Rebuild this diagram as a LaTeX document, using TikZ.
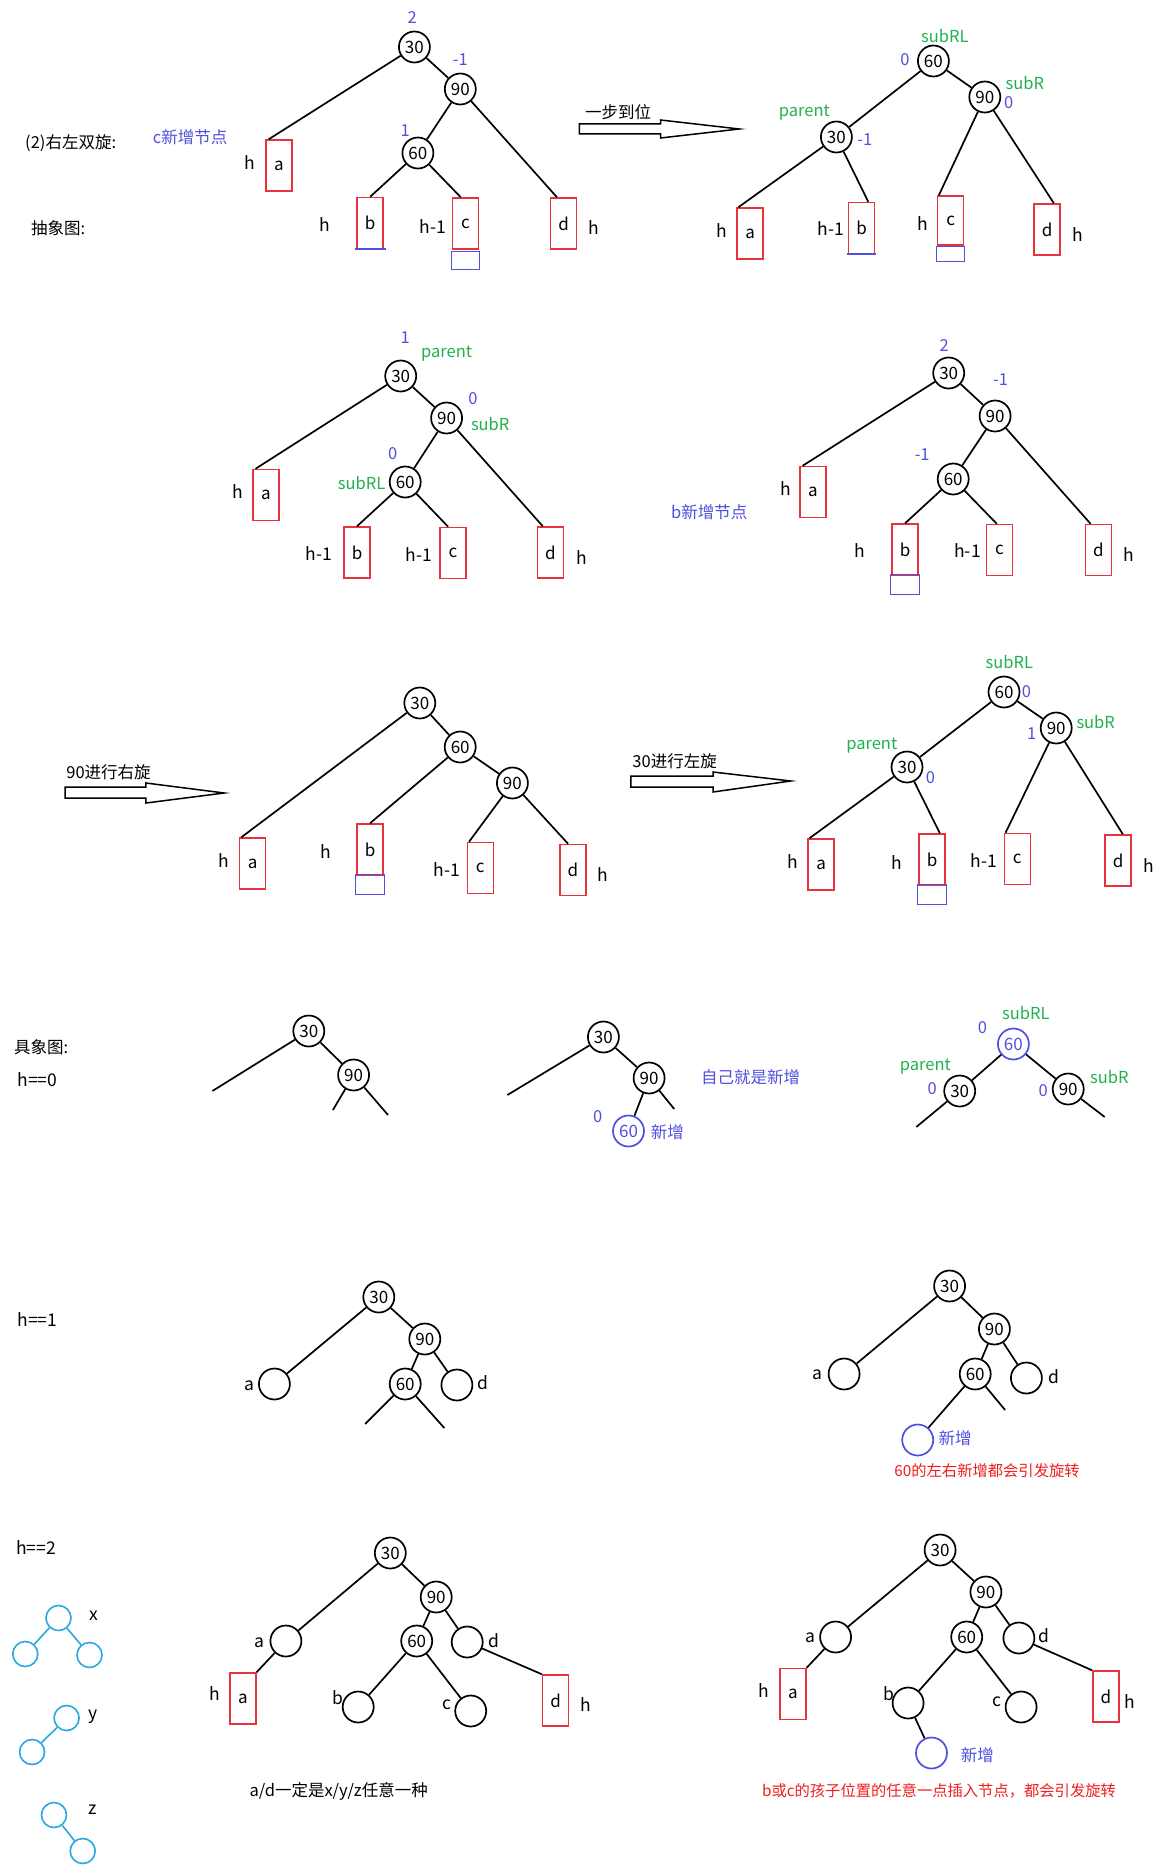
\documentclass[tikz,border=0pt]{standalone}
\usepackage{fontspec}
\setmainfont{Noto Sans CJK SC}
\definecolor{bred}{RGB}{232,50,62}
\definecolor{nblue}{RGB}{80,80,224}
\definecolor{sgreen}{RGB}{34,177,76}
\definecolor{lblue}{RGB}{41,168,224}
\definecolor{tred}{RGB}{240,30,30}
\begin{document}
\begin{tikzpicture}[x=1pt,y=-1pt,
  nd/.style={circle, draw, line width=1.7pt, minimum size=31pt, inner sep=0pt, font=\fontsize{17}{19}\selectfont},
  ndb/.style={nd, draw=nblue, text=nblue},
  leaf/.style={circle, draw, line width=1.7pt, minimum size=31pt, inner sep=0pt},
  leafb/.style={leaf, draw=nblue},
  sm/.style={circle, draw=lblue, line width=1.6pt, minimum size=25pt, inner sep=0pt},
  bx/.style={rectangle, draw=bred, line width=1.5pt, minimum width=26pt, minimum height=51pt, inner sep=0pt, font=\fontsize{17}{19}\selectfont},
  nbox/.style={rectangle, draw=nblue, line width=1.3pt, minimum width=28pt, minimum height=18pt, inner sep=0pt, anchor=north},
  uline/.style={draw=nblue, line width=1.8pt},
  ln/.style={line width=1.7pt},
  lnb/.style={line width=1.6pt, draw=lblue},
  lab/.style={inner sep=0pt, font=\fontsize{17.5}{19}\selectfont},
  blab/.style={inner sep=0pt, text=nblue, font=\fontsize{16.5}{18}\selectfont},
  glab/.style={inner sep=0pt, text=sgreen, font=\fontsize{16.5}{18}\selectfont},
  cj/.style={inner sep=0pt, font=\fontsize{16.5}{18}\selectfont},
  rednote/.style={inner sep=0pt, text=tred, font=\fontsize{15.3}{17}\selectfont},
  harrow/.style={draw, line width=1.5pt, fill=white}
]
\fill[white] (0,0) rectangle (1157,1865);
\useasboundingbox (0,0) rectangle (1157,1865);

% ---------- Section 1 left ----------
\node[cj, anchor=west] (title) at (25,143) {(2)右左双旋:};
\node[cj, text=nblue, anchor=west] (cnew) at (152.7,137) {c新增节点};
\node[cj, anchor=west] (abs) at (31,228) {抽象图:};
\node[nd] (A30) at (414.4,47) {30};
\node[nd] (A90) at (460.3,89) {90};
\node[nd] (A60) at (417.9,153) {60};
\node[bx] (Aa) at (279,165.5) {a};
\node[bx] (Ab) at (370.2,223) {b};
\node[bx] (Ac) at (465.5,223.5) {c};
\node[bx] (Ad) at (563.7,223.5) {d};
\node[nbox] (Acn) at ([yshift=-1pt]Ac.south) {};
\draw[uline] ([xshift=-1pt]Ab.south west) -- ([xshift=2pt]Ab.south east);
\node[blab] (A2) at (412.1,18) {2};
\node[blab] (Am1) at (460.3,60) {-1};
\node[blab] (A1) at (405.2,131) {1};
\node[lab] (Ah1) at (250.3,163) {h};
\node[lab] (Ah2) at (324.9,225) {h};
\node[lab] (Ah3) at (432.8,227) {h-1};
\node[lab] (Ah4) at (593.5,228) {h};
\draw[ln] (A30) -- ([xshift=3.5pt]Aa.north west);
\draw[ln] (A30) -- (A90);
\draw[ln] (A90) -- (A60);
\draw[ln] (A90) -- ([xshift=7pt]Ad.north west);
\draw[ln] (A60) -- (Ab.north);
\draw[ln] (A60) -- ([xshift=9pt]Ac.north west);

% arrow 1
\node[cj] (s1) at (618.2,112) {一步到位};
\draw[harrow] (579.4,124) -- (660.5,124) -- (660.5,120) -- (739.3,129) -- (660.5,138) -- (660.5,134) -- (579.4,134) -- cycle;

% ---------- Section 1 right ----------
\node[nd] (B60) at (933.4,61) {60};
\node[nd] (B90) at (984.8,97) {90};
\node[nd] (B30) at (836.4,137) {30};
\node[bx] (Ba) at (750.1,233.5) {a};
\node[bx] (Bb) at (861.5,228) {b};
\node[bx, minimum height=49pt] (Bc) at (950.6,220.5) {c};
\node[bx] (Bd) at (1047.1,229.5) {d};
\node[nbox, minimum height=15pt] (Bcn) at (Bc.south) {};
\draw[uline] ([xshift=-1pt]Bb.south west) -- ([xshift=1pt]Bb.south east);
\node[glab] (Bs1) at (944.9,36) {subRL};
\node[blab] (Bz1) at (904.9,60) {0};
\node[glab] (Bs2) at (1024.8,83) {subR};
\node[blab] (Bz2) at (1008.8,103) {0};
\node[glab] (Bs3) at (804.4,113) {parent};
\node[blab] (Bz3) at (864.9,140) {-1};
\node[lab] (Bh1) at (722.2,231) {h};
\node[lab] (Bh2) at (830.7,229) {h-1};
\node[lab] (Bh3) at (923.2,224) {h};
\node[lab] (Bh4) at (1077.3,235) {h};
\draw[ln] (B60) -- (B30);
\draw[ln] (B60) -- (B90);
\draw[ln] (B30) -- ([xshift=2pt]Ba.north west);
\draw[ln] (B30) -- ([xshift=-7pt]Bb.north east);
\draw[ln] (B90) -- ([xshift=2pt]Bc.north west);
\draw[ln] (B90) -- ([xshift=-7pt]Bd.north east);

% ---------- Section 2 left ----------
\node[nd] (C30) at (400.7,376) {30};
\node[nd] (C90) at (446.6,418) {90};
\node[nd] (C60) at (405.2,482) {60};
\node[bx] (Ca) at (265.8,495) {a};
\node[bx] (Cb) at (357,552.5) {b};
\node[bx] (Cc) at (452.9,553) {c};
\node[bx] (Cd) at (550.5,552.5) {d};
\node[blab] (C1) at (405.2,338) {1};
\node[glab] (Cs1) at (446.6,354) {parent};
\node[blab] (Cz1) at (473,399) {0};
\node[glab] (Cs2) at (490.2,424) {subR};
\node[blab] (Cz2) at (392.6,454) {0};
\node[glab] (Cs3) at (361.6,483) {subRL};
\node[lab] (Ch1) at (237.6,492) {h};
\node[lab] (Ch2) at (319.1,554) {h-1};
\node[lab] (Ch3) at (419,555) {h-1};
\node[lab] (Ch4) at (582,558) {h};
\draw[ln] (C30) -- ([xshift=3.5pt]Ca.north west);
\draw[ln] (C30) -- (C90);
\draw[ln] (C90) -- (C60);
\draw[ln] (C90) -- ([xshift=6pt]Cd.north west);
\draw[ln] (C60) -- (Cb.north);
\draw[ln] (C60) -- ([xshift=9pt]Cc.north west);

% ---------- Section 2 right ----------
\node[nd] (D30) at (948.7,373) {30};
\node[nd] (D90) at (995.1,416) {90};
\node[nd] (D60) at (953.2,479) {60};
\node[bx] (Da) at (812.9,492) {a};
\node[bx] (Db) at (905.1,549.5) {b};
\node[bx] (Dc) at (999.5,550) {c};
\node[bx] (Dd) at (1098.3,550) {d};
\node[nbox, minimum width=29pt, minimum height=20pt] (Dbn) at ([yshift=2pt]Db.south) {};
\node[blab] (D2) at (944.3,346) {2};
\node[blab] (Dm1) at (1000.6,380) {-1};
\node[blab] (Dm2) at (922.2,455) {-1};
\node[cj, text=nblue] (bnew) at (709.2,512) {b新增节点};
\node[lab] (Dh1) at (785.3,489) {h};
\node[lab] (Dh2) at (859.3,551) {h};
\node[lab] (Dh3) at (967.5,551) {h-1};
\node[lab] (Dh4) at (1128.7,555) {h};
\draw[ln] (D30) -- ([xshift=3.5pt]Da.north west);
\draw[ln] (D30) -- (D90);
\draw[ln] (D90) -- (D60);
\draw[ln] (D90) -- ([xshift=6pt]Dd.north west);
\draw[ln] (D60) -- (Db.north);
\draw[ln] (D60) -- ([xshift=11pt]Dc.north west);

% ---------- Section 3 left ----------
\node[cj] (s2) at (108.5,772) {90进行右旋};
\draw[harrow] (65.2,787) -- (145.9,787) -- (145.9,783) -- (224.2,793) -- (145.9,803) -- (145.9,798) -- (65.2,798) -- cycle;
\node[nd] (E30) at (419.8,703) {30};
\node[nd] (E60) at (460.2,747) {60};
\node[nd] (E90) at (512.4,783) {90};
\node[bx] (Ea) at (252.6,863.5) {a};
\node[bx] (Eb) at (370,849.5) {b};
\node[bx] (Ec) at (480.3,868) {c};
\node[bx] (Ed) at (572.8,870) {d};
\node[nbox, minimum width=29pt, minimum height=20pt] (Ebn) at ([yshift=2pt]Eb.south) {};
\node[lab] (Eh1) at (224.2,861) {h};
\node[lab] (Eh2) at (326.2,852) {h};
\node[lab] (Eh3) at (447.1,870) {h-1};
\node[lab] (Eh4) at (602.5,875) {h};
\draw[ln] (E30) -- ([xshift=2.5pt]Ea.north west);
\draw[ln] (E30) -- (E60);
\draw[ln] (E60) -- (Eb.north);
\draw[ln] (E60) -- (E90);
\draw[ln] (E90) -- ([xshift=2.5pt]Ec.north west);
\draw[ln] (E90) -- ([xshift=9pt]Ed.north west);

% ---------- Section 3 right ----------
\node[cj] (s3) at (674.6,761) {30进行左旋};
\draw[harrow] (630.9,776) -- (713,776) -- (713,772) -- (790.8,781) -- (713,792) -- (713,787) -- (630.9,787) -- cycle;
\node[nd] (F60) at (1004,692) {60};
\node[nd] (F90) at (1056.2,728) {90};
\node[nd] (F30) at (907,767) {30};
\node[bx] (Fa) at (821.2,864.5) {a};
\node[bx] (Fb) at (932.1,859.5) {b};
\node[bx] (Fc) at (1017.3,859) {c};
\node[bx] (Fd) at (1118.1,860.5) {d};
\node[nbox, minimum width=29pt, minimum height=20pt] (Fbn) at ([yshift=2pt]Fb.south) {};
\node[glab] (Fs1) at (1009.3,662) {subRL};
\node[blab] (Fz1) at (1026.4,692) {0};
\node[glab] (Fs2) at (1095.7,722) {subR};
\node[blab] (Fz2) at (1031.7,734) {1};
\node[glab] (Fs3) at (871.8,746) {parent};
\node[blab] (Fz3) at (930.5,778) {0};
\node[lab] (Fh1) at (793,862) {h};
\node[lab] (Fh2) at (896.3,863) {h};
\node[lab] (Fh3) at (983.8,861) {h-1};
\node[lab] (Fh4) at (1149,866) {h};
\draw[ln] (F60) -- (F30);
\draw[ln] (F60) -- (F90);
\draw[ln] (F30) -- ([xshift=2pt]Fa.north west);
\draw[ln] (F30) -- ([xshift=-6pt]Fb.north east);
\draw[ln] (F90) -- ([xshift=2pt]Fc.north west);
\draw[ln] (F90) -- ([xshift=-9pt]Fd.north east);

% ---------- Section 4 ----------
\node[cj, anchor=west] (conc) at (13.8,1047) {具象图:};
\node[lab, anchor=west] (h0) at (17.2,1080) {h==0};
\node[nd] (G30) at (308.8,1031) {30};
\node[nd] (G90) at (353.6,1075) {90};
\coordinate (G1) at (212.4,1091);
\coordinate (G2) at (332.9,1110);
\coordinate (G3) at (388,1115);
\draw[ln] (G30) -- (G1);
\draw[ln] (G30) -- (G90);
\draw[ln] (G90) -- (G2);
\draw[ln] (G90) -- (G3);

\node[nd] (H30) at (603.4,1037) {30};
\node[nd] (H90) at (649.1,1078) {90};
\node[ndb] (H60) at (628.5,1131) {60};
\coordinate (H1) at (507.4,1095);
\coordinate (H2) at (674.2,1109);
\node[cj, text=nblue] (self) at (750.7,1077) {自己就是新增};
\node[blab] (Hz) at (597.7,1117) {0};
\node[cj, text=nblue] (Hn) at (667.3,1132) {新增};
\draw[ln] (H30) -- (H1);
\draw[ln] (H30) -- (H90);
\draw[ln] (H90) -- (H60);
\draw[ln] (H90) -- (H2);

\node[ndb] (I60) at (1013.4,1044) {60};
\node[nd] (I30) at (959.7,1091) {30};
\node[nd] (I90) at (1068.2,1089) {90};
\coordinate (I1) at (916.3,1127);
\coordinate (I2) at (1104.7,1117);
\node[glab] (Is1) at (1025.9,1013) {subRL};
\node[blab] (Iz1) at (982.5,1028) {0};
\node[glab] (Is2) at (925.4,1067) {parent};
\node[blab] (Iz2) at (932.3,1089) {0};
\node[blab] (Iz3) at (1043.1,1091) {0};
\node[glab] (Is3) at (1109.3,1077) {subR};
\draw[ln] (I60) -- (I30);
\draw[ln] (I60) -- (I90);
\draw[ln] (I30) -- (I1);
\draw[ln] (I90) -- (I2);

% ---------- Section 5 ----------
\node[lab, anchor=west] (h1) at (17.2,1320) {h==1};
\node[nd] (J30) at (378.8,1297) {30};
\node[nd] (J90) at (424.8,1339) {90};
\node[leaf] (Ja) at (274.4,1384) {};
\node[nd] (J60) at (405.2,1384) {60};
\node[leaf] (Jd) at (456.9,1385) {};
\coordinate (J1) at (365.1,1424);
\coordinate (J2) at (444.3,1428);
\node[lab] (Jla) at (249.1,1386) {a};
\node[lab] (Jld) at (483.3,1383) {d};
\draw[ln] (J30) -- (Ja);
\draw[ln] (J30) -- (J90);
\draw[ln] (J90) -- (J60);
\draw[ln] (J90) -- (Jd);
\draw[ln] (J60) -- (J1);
\draw[ln] (J60) -- (J2);

\node[nd] (K30) at (949.6,1286) {30};
\node[nd] (K90) at (994.4,1329) {90};
\node[leaf] (Ka) at (844.1,1374) {};
\node[nd] (K60) at (975.2,1374) {60};
\node[leaf] (Kd) at (1026.4,1378) {};
\node[leafb] (Kn) at (917.7,1440) {};
\coordinate (K1) at (1005.1,1410);
\node[lab] (Kla) at (817.5,1375) {a};
\node[lab] (Kld) at (1054.1,1377) {d};
\node[cj, text=nblue] (Knt) at (955,1438) {新增};
\node[rednote] (Kred) at (987,1471) {60的左右新增都会引发旋转};
\draw[ln] (K30) -- (Ka);
\draw[ln] (K30) -- (K90);
\draw[ln] (K90) -- (K60);
\draw[ln] (K90) -- (Kd);
\draw[ln] (K60) -- (Kn);
\draw[ln] (K60) -- (K1);

% ---------- Section 6 ----------
\node[lab, anchor=west] (h2) at (16.1,1548) {h==2};
\node[sm] (X1) at (58.5,1618) {};
\node[sm] (X2) at (25.3,1654) {};
\node[sm] (X3) at (89.5,1655) {};
\node[lab] (Xl) at (94.1,1616) {x};
\node[sm] (Y1) at (66.6,1718) {};
\node[sm] (Y2) at (32.1,1752) {};
\node[lab] (Yl) at (93,1717) {y};
\node[sm] (Z1) at (54,1815) {};
\node[sm] (Z2) at (82.7,1851) {};
\node[lab] (Zl) at (93,1810) {z};
\draw[lnb] (X1) -- (X2);
\draw[lnb] (X1) -- (X3);
\draw[lnb] (Y1) -- (Y2);
\draw[lnb] (Z1) -- (Z2);

\node[nd] (L30) at (390.3,1553) {30};
\node[nd] (L90) at (436.2,1597) {90};
\node[leaf] (La) at (285.9,1641) {};
\node[nd] (L60) at (416.7,1641) {60};
\node[leaf] (Ld) at (467.2,1642) {};
\node[leaf] (Lb) at (358.2,1707) {};
\node[leaf] (Lc) at (470.7,1711) {};
\node[bx] (Lba) at (242.8,1698.5) {a};
\node[bx] (Lbd) at (555.6,1700.5) {d};
\node[lab] (Lla) at (259.4,1643) {a};
\node[lab] (Lld) at (493.6,1641) {d};
\node[lab] (Lh1) at (214.7,1694) {h};
\node[lab] (Lh2) at (585.5,1705) {h};
\node[lab] (Llb) at (337.5,1698) {b};
\node[lab] (Llc) at (446.6,1705) {c};
\node[cj] (Lnote) at (338.7,1791) {a/d一定是x/y/z任意一种};
\draw[ln] (L30) -- (La);
\draw[ln] (L30) -- (L90);
\draw[ln] (L90) -- (L60);
\draw[ln] (L90) -- (Ld);
\draw[ln] (La) -- (Lba.north east);
\draw[ln] (Ld) -- (Lbd.north west);
\draw[ln] (L60) -- (Lb);
\draw[ln] (L60) -- (Lc);

\node[nd] (M30) at (940.1,1550) {30};
\node[nd] (M90) at (985.9,1592) {90};
\node[leaf] (Ma) at (835.6,1637) {};
\node[nd] (M60) at (966.7,1637) {60};
\node[leaf] (Md) at (1018.9,1638) {};
\node[leaf] (Mb) at (908.1,1703) {};
\node[leaf] (Mc) at (1021.1,1707) {};
\node[leafb] (Mn) at (931.5,1753) {};
\node[bx] (Mba) at (792.9,1694) {a};
\node[bx] (Mbd) at (1105.8,1696.5) {d};
\node[lab] (Mla) at (810,1638) {a};
\node[lab] (Mld) at (1043.5,1636) {d};
\node[lab] (Mh1) at (764.2,1691) {h};
\node[lab] (Mh2) at (1129.6,1702) {h};
\node[lab] (Mlb) at (888.9,1694) {b};
\node[lab] (Mlc) at (996.6,1702) {c};
\node[cj, text=nblue] (Mnt) at (977.4,1755) {新增};
\node[rednote] (Mred) at (939,1791) {b或c的孩子位置的任意一点插入节点，都会引发旋转};
\draw[ln] (M30) -- (Ma);
\draw[ln] (M30) -- (M90);
\draw[ln] (M90) -- (M60);
\draw[ln] (M90) -- (Md);
\draw[ln] (Ma) -- (Mba.north east);
\draw[ln] (Md) -- (Mbd.north west);
\draw[ln] (M60) -- (Mb);
\draw[ln] (M60) -- (Mc);
\draw[ln] (Mb) -- (Mn);
\end{tikzpicture}
\end{document}
